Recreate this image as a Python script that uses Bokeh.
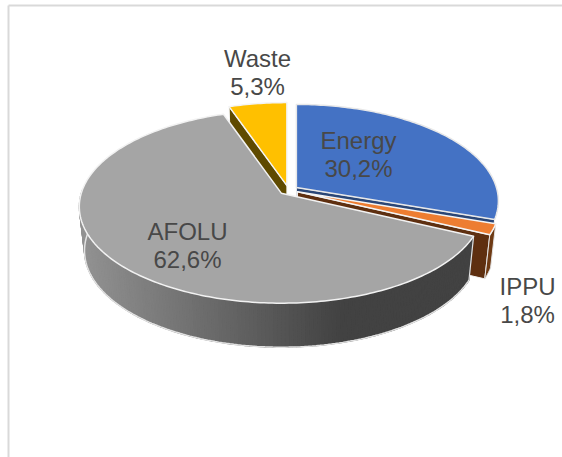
import math
from bokeh.plotting import figure
from bokeh.embed import file_html
from bokeh.resources import INLINE
from bokeh.models import Range1d
from bokeh.core.properties import value

categories = ["Energy", "IPPU", "AFOLU", "Waste"]
shares = [30.2, 1.8, 62.6, 5.3]
share_labels = ["30,2%", "1,8%", "62,6%", "5,3%"]
top_colors = ["#4472C4", "#ED7D31", "#A5A5A5", "#FFC000"]
face_colors = ["#2A4676", "#5E2F10", "#404040", "#5F4A00"]

label_x = [358, 527, 187, 257]
label_y = [140, 286, 231, 58]
LINE_STEP = 27.5

W, H = 562, 457
CX, CY = 288.0, 189.6
R, RK, PERSP = 200.0, 94.6, 0.14
EXPLODE = 9.7
DEPTH = 44.0
SHRINK = 0.975

p = figure(width=W, height=H, output_backend="svg", toolbar_location=None,
           x_range=Range1d(0, W), y_range=Range1d(H, 0), min_border=0)
p.axis.visible = False
p.grid.visible = False
p.outline_line_color = None
p.background_fill_color = "white"
p.styles = {"position": "absolute", "left": "0px", "top": "0px"}


def top_pt(apex, deg):
    t = math.radians(deg)
    u, v = math.sin(t), math.cos(t)
    s = 1 / (1 + PERSP * v)
    return apex[0] + R * u * s, apex[1] - RK * v * s


def low_pt(pt):
    return CX + (pt[0] - CX) * SHRINK, pt[1] + DEPTH


def arc(apex, a0, a1):
    n = max(2, int(abs(a1 - a0)) + 2)
    return [top_pt(apex, a0 + (a1 - a0) * i / (n - 1)) for i in range(n)]


def poly(points, color, line="white", lw=1.0):
    p.patch([q[0] for q in points], [q[1] for q in points], fill_color=color,
            line_color=line, line_width=lw, line_join="round")


def gray_for(x):
    f = min(1.0, max(0.0, (x - 80) / 260))
    g = int(round(0x92 + (0x42 - 0x92) * f))
    return "#%02x%02x%02x" % (g, g, g)


total = sum(shares)
spans, a = [], 0.0
for s in shares:
    spans.append((a, a + s / total * 360))
    a += s / total * 360

apexes = []
for a0, a1 in spans:
    m = math.radians((a0 + a1) / 2)
    apexes.append((CX + EXPLODE * math.sin(m), CY - EXPLODE * math.cos(m) * RK / R))

# back to front: Waste, Energy, IPPU, AFOLU
# Waste
a0, a1 = spans[3]
rim = top_pt(apexes[3], a0)
poly([apexes[3], rim, low_pt(rim), low_pt(apexes[3])], face_colors[3], "#f4f4f4")
poly([apexes[3]] + arc(apexes[3], a0, a1), top_colors[3], "#f4f4f4", 1.5)

# Energy
a0, a1 = spans[0]
rim = top_pt(apexes[0], a1)
poly([apexes[0], rim, low_pt(rim), low_pt(apexes[0])], face_colors[0], "#f4f4f4")
poly([apexes[0]] + arc(apexes[0], a0, a1), top_colors[0], "#e8e8e8", 1.5)

# IPPU
a0, a1 = spans[1]
rim = top_pt(apexes[1], a1)
poly([apexes[1], rim, low_pt(rim), low_pt(apexes[1])], face_colors[1], "#f0f0f0")
edge = arc(apexes[1], a0, a1)
poly(edge + [low_pt(q) for q in reversed(edge)], "#6E3A14", "#e4e4e4")
poly([apexes[1]] + edge, top_colors[1], "#f4f4f4", 1.5)

# AFOLU
a0, a1 = spans[2]
side = arc(apexes[2], a0, 272)
xs, ys, cols = [], [], []
for q0, q1 in zip(side[:-1], side[1:]):
    b0, b1 = low_pt(q0), low_pt(q1)
    xs.append([q0[0], q1[0], b1[0], b0[0]])
    ys.append([q0[1], q1[1], b1[1], b0[1]])
    cols.append(gray_for((q0[0] + q1[0]) / 2))
p.patches(xs, ys, fill_color=cols, line_color=cols, line_width=1.2)
low = [low_pt(q) for q in side]
p.line([q[0] for q in low], [q[1] for q in low], line_color="#e2e2e2", line_width=1.5)
p.line([side[0][0], low[0][0]], [side[0][1], low[0][1]], line_color="#e2e2e2", line_width=1.2)
p.line([side[-1][0], low[-1][0]], [side[-1][1], low[-1][1]], line_color="#e2e2e2", line_width=1.2)
poly([apexes[2]] + arc(apexes[2], a0, a1), top_colors[2], "#f2f2f2", 1.5)

# chart frame (top and left only reach the picture)
p.line([8, W], [5, 5], line_color="#D9D9D9", line_width=2)
p.line([8, 8], [5, H], line_color="#D9D9D9", line_width=2)

for name, pct, x, y in zip(categories, share_labels, label_x, label_y):
    for txt, yy in ((name, y), (pct, y + LINE_STEP)):
        p.text([x], [yy], text=[txt], text_font=value("Liberation Sans"),
               text_font_size="24px", text_color="#484848",
               text_align="center", text_baseline="middle")

open("out.html", "w").write(file_html(p, INLINE))
